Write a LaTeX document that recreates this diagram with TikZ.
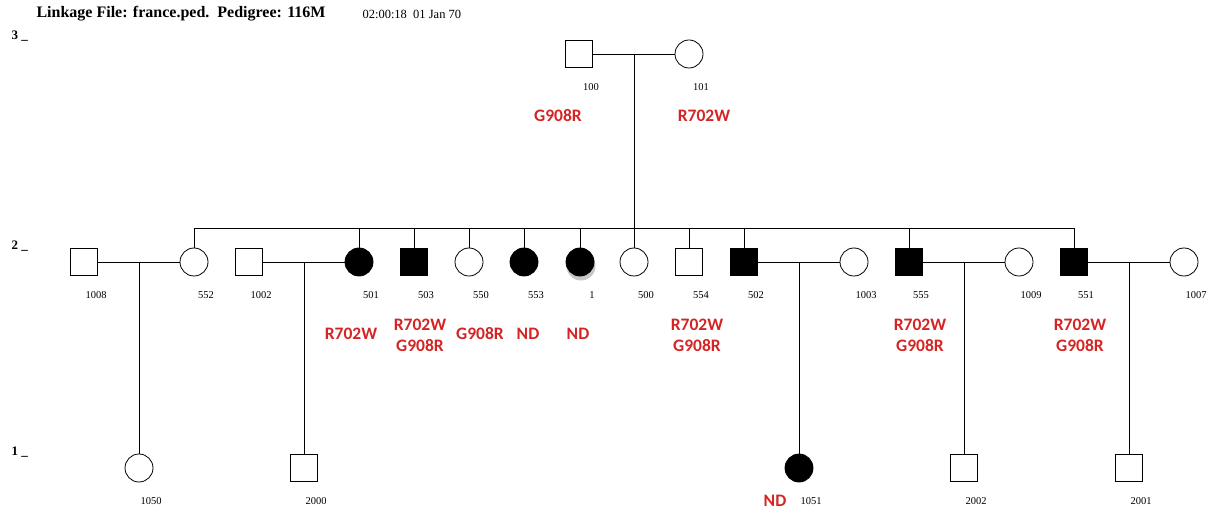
\documentclass[tikz,border=0pt]{standalone}
\usepackage{fontspec}
\setmainfont{Liberation Serif}
\newfontfamily\mutfont{Carlito}
\usetikzlibrary{positioning}
\definecolor{mutred}{RGB}{212,36,36}
\tikzset{
    male/.style={draw, line width=0.8pt, minimum size=27pt, inner sep=0pt},
    female/.style={draw, circle, line width=0.8pt, minimum size=28pt, inner sep=0pt},
    aff/.style={fill=black},
    idlab/.style={font=\fontsize{10.5}{12}\selectfont, xshift=12pt, yshift=-12pt},
    mut/.style={font=\mutfont\bfseries\fontsize{17.5}{21}\selectfont, text=mutred, align=center},
    genlab/.style={font=\bfseries\fontsize{13}{15}\selectfont, anchor=west},
    line/.style={line width=0.8pt}
}
\begin{document}
\begin{tikzpicture}[x=1pt, y=-1pt]
    \useasboundingbox (0,0) rectangle (1215,510);
    % header
    \node[anchor=west, font=\bfseries\fontsize{16}{18}\selectfont] (title) at (33,14) {Linkage File: france.ped.\ \ Pedigree: 116M};
    \node[anchor=west, font=\fontsize{12.5}{14}\selectfont] (stamp) at (359,14) {02:00:18\ \ 01 Jan 70};
    \node[genlab] (g3) at (8,36) {3 \_};
    \node[genlab] (g2) at (8,246) {2 \_};
    \node[genlab] (g1) at (8,452) {1 \_};

    % generation 3
    \node[male, label={[idlab]below:100}] (p100) at (579,54) {};
    \node[female, label={[idlab]below:101}] (p101) at (689,54) {};

    % generation 2
    \node[male, label={[idlab]below:1008}] (p1008) at (84,262) {};
    \node[female, label={[idlab]below:552}] (p552) at (194,262) {};
    \node[male, label={[idlab]below:1002}] (p1002) at (249,262) {};
    \node[female, aff, label={[idlab]below:501}] (p501) at (359,262) {};
    \node[male, aff, label={[idlab]below:503}] (p503) at (414,262) {};
    \node[female, label={[idlab]below:550}] (p550) at (469,262) {};
    \node[female, aff, label={[idlab]below:553}] (p553) at (524,262) {};
    \fill[black!22] (581,266) circle (14.5);
    \node[female, aff, label={[idlab]below:1}] (p1) at (580,262) {};
    \node[female, label={[idlab]below:500}] (p500) at (634,262) {};
    \node[male, label={[idlab]below:554}] (p554) at (689,262) {};
    \node[male, aff, label={[idlab]below:502}] (p502) at (744,262) {};
    \node[female, label={[idlab]below:1003}] (p1003) at (854,262) {};
    \node[male, aff, label={[idlab]below:555}] (p555) at (909,262) {};
    \node[female, label={[idlab]below:1009}] (p1009) at (1019,262) {};
    \node[male, aff, label={[idlab]below:551}] (p551) at (1074,262) {};
    \node[female, label={[idlab]below:1007}] (p1007) at (1184,262) {};

    % generation 1
    \node[female, label={[idlab]below:1050}] (p1050) at (139,468) {};
    \node[male, label={[idlab]below:2000}] (p2000) at (304,468) {};
    \node[female, aff, label={[idlab]below:1051}] (p1051) at (799,468) {};
    \node[male, label={[idlab]below:2002}] (p2002) at (964,468) {};
    \node[male, label={[idlab]below:2001}] (p2001) at (1129,468) {};

    % marriages and descent
    \coordinate (m0) at (634,54);
    \coordinate (sib) at (634,228);
    \coordinate (m1) at (139,262);
    \coordinate (m2) at (304,262);
    \coordinate (m3) at (799,262);
    \coordinate (m4) at (964,262);
    \coordinate (m5) at (1129,262);
    \draw[line] (p100) -- (p101);
    \draw[line] (m0) -- (sib);
    \draw[line] (p552 |- sib) -- (p551 |- sib);
    \foreach \n in {552,501,503,550,553,1,500,554,502,555,551}
        \draw[line] (p\n |- sib) -- (p\n.north);
    \draw[line] (p1008) -- (p552);
    \draw[line] (p1002) -- (p501);
    \draw[line] (p502) -- (p1003);
    \draw[line] (p555) -- (p1009);
    \draw[line] (p551) -- (p1007);
    \draw[line] (m1) -- (p1050.north);
    \draw[line] (m2) -- (p2000.north);
    \draw[line] (m3) -- (p1051.north);
    \draw[line] (m4) -- (p2002.north);
    \draw[line] (m5) -- (p2001.north);

    % mutations
    \node[mut] (t100) at (558,116) {G908R};
    \node[mut] (t101) at (704,116) {R702W};
    \node[mut] (t501) at (351,334) {R702W};
    \node[mut] (t503) at (420,335) {R702W\\G908R};
    \node[mut] (t550) at (480,334) {G908R};
    \node[mut] (t553) at (528,334) {ND};
    \node[mut] (t1) at (578,334) {ND};
    \node[mut] (t554) at (697,335) {R702W\\G908R};
    \node[mut] (t555) at (920,335) {R702W\\G908R};
    \node[mut] (t551) at (1080,335) {R702W\\G908R};
    \node[mut] (t1051) at (775,501) {ND};
\end{tikzpicture}
\end{document}
